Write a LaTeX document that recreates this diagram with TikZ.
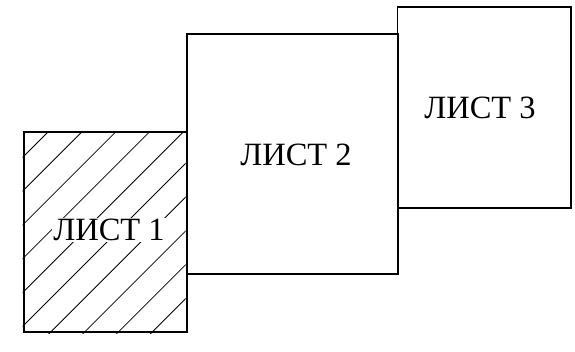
\documentclass[tikz,border=0pt]{standalone}
\usepackage{fontspec}
\setmainfont{Liberation Serif}
\begin{document}
\begin{tikzpicture}[x=1pt,y=1pt,
  sheet/.style={draw=black, line width=1.8pt, inner sep=0pt, anchor=south west},
  hatchline/.style={line width=0.8pt},
  lbl/.style={font=\fontsize{32.5}{36}\selectfont, inner sep=1.5pt}]
\useasboundingbox (0,0) rectangle (575,352);
% hatching of sheet 1
\begin{scope}
  \clip (22.7,18.7) rectangle (185.7,218.7);
  \foreach \k in {0,...,9} {
    \draw[hatchline] (0,{352-180-33.8*\k}) -- (220,{352-180-33.8*\k+220});
  }
\end{scope}
\node[sheet, minimum width=163pt, minimum height=200pt] (s1) at (22.7,18.7) {};
\node[sheet, minimum width=210.7pt, minimum height=240pt] (s2) at (186,77) {};
\node[sheet, minimum width=173.5pt, minimum height=201pt] (s3) at (396.5,142.7) {};
\node[lbl, fill=white] (l1) at (109,122) {ЛИСТ 1};
\node[lbl] (l2) at (296,197.5) {ЛИСТ 2};
\node[lbl] (l3) at (480,244.5) {ЛИСТ 3};
\end{tikzpicture}
\end{document}
